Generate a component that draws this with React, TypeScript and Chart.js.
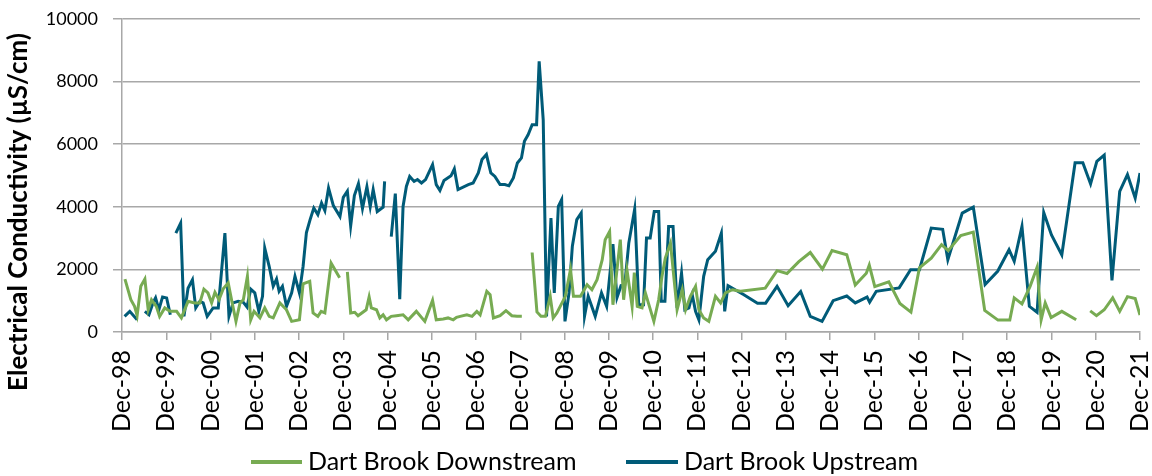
import React, { useEffect, useRef } from "react";
import { Chart, registerables } from "chart.js";

Chart.register(...registerables);

// x positions are months since Dec-1998
const downMonths = [0.8, 2.4, 3.4, 4.1, 5.1, 6.2, 7.1, 8.0, 9.3, 10.2, 11.6, 13.0, 14.8, 16.1, 17.9, 19.7, 21.1, 22.2, 23.3, 24.3, 25.2, 26.3, 27.4, 28.8, 29.7, 30.9, 32.0, 32.9, 34.0, 34.9, 35.8, 37.4, 38.7, 39.9, 41.0, 42.8, 44.6, 46.0, 48.1, 49.1, 50.9, 51.8, 53.1, 54.0, 55.0, 56.7, 59.0, 60, 61.1, 62.0, 63.1, 64.0, 66.2, 67.0, 67.6, 69.0, 69.9, 70.8, 71.7, 73.0, 74.4, 76.2, 77.6, 79.8, 82.1, 84.2, 85.2, 87.1, 88.4, 89.8, 90.7, 91.7, 93.5, 94.9, 96.2, 97.1, 98.9, 99.8, 100.7, 102.5, 104.1, 105.7, 107.1, 108.4, 109.5, 111.2, 112.5, 113.6, 114.8, 116.1, 116.9, 117.9, 120.2, 121.6, 122.4, 124.3, 126.1, 127.4, 128.8, 130.2, 131.0, 132.2, 133.1, 134.0, 135.1, 136.0, 136.9, 138.3, 138.9, 139.7, 141.0, 141.9, 144.2, 145.5, 146.4, 147.3, 148.7, 149.6, 150.5, 151.9, 152.8, 154.1, 155.5, 156.4, 157.7, 159.1, 160.9, 162.3, 163.6, 165.5, 167.7, 174.4, 177.6, 180.3, 183.5, 186.6, 189.9, 192.5, 196.5, 198.8, 201.8, 202.6, 204.1, 207.9, 210.9, 213.9, 216.2, 219.4, 222.2, 224.0, 227.4, 230.8, 233.9, 237.5, 240.7, 241.9, 244.0, 246.2, 248.1, 249.2, 250.3, 251.9, 254.8, 258.7, 260.5, 262.5, 264.2, 266.3, 268.6, 270.5, 272.6, 274.7, 276];
const downValues = [1690, 1030, 820, 530, 1460, 1690, 710, 1030, 820, 500, 770, 660, 660, 450, 980, 930, 930, 1370, 1250, 930, 1270, 1030, 1370, 1570, 1030, 340, 930, 1030, 1780, 390, 660, 450, 770, 500, 450, 930, 710, 340, 390, 1540, 1620, 610, 500, 660, 610, 2200, 1730, null, 1920, 610, 630, 520, 710, 1120, 770, 710, 450, 550, 390, 500, 520, 550, 390, 660, 340, 1010, 390, 415, 450, 390, 470, 500, 550, 500, 660, 550, 1300, 1190, 450, 520, 680, 520, 500, 500, null, 2540, 640, 500, 500, 1140, 450, 610, 1140, 2000, 1140, 1140, 1510, 1350, 1670, 2310, 2950, 3210, 870, 1780, 2950, 1030, 1990, 820, 1900, 820, 770, 1250, 340, 1030, 1780, 2360, 2840, 1780, 710, 1350, 710, 1140, 1460, 710, 450, 340, 1140, 930, 1250, 1350, 1300, 1400, 1960, 1870, 2250, 2540, 2010, 2600, 2470, 1500, 1880, 2140, 1450, 1600, 910, 635, 2050, 2360, 2790, 2600, 3080, 3190, 690, 380, 380, 1090, 900, 1460, 2070, 390, 930, 460, 660, 390, null, 675, 520, 710, 1090, 660, 1130, 1070, 540];

const upMonths = [0.7, 2.1, 4.1, 5, 6.2, 7.3, 8.4, 9.1, 10.0, 11.0, 12.1, 13.1, 14, 14.6, 15.9, 16.8, 17.9, 19.1, 20.0, 21.1, 22.0, 23.1, 24.7, 26.1, 27.9, 29.0, 30.1, 31.5, 32.9, 33.9, 34.9, 36.0, 37.1, 38.1, 38.7, 39.9, 41.0, 41.9, 42.6, 43.5, 44.6, 46.0, 46.9, 48.1, 49.1, 50.0, 51.0, 52.0, 53.1, 54.1, 55.0, 56.0, 57.3, 59.1, 60.0, 61.1, 62.0, 63.0, 64.1, 65.2, 66.4, 67.3, 68.1, 69.2, 70.8, 71.2, 72, 73.0, 74.1, 75.3, 76.2, 77.1, 78.0, 79.2, 80.1, 81.2, 82.3, 84.2, 85.2, 86.2, 87.3, 89.2, 90.1, 91.1, 93.9, 95.2, 96.6, 97.6, 98.8, 100.0, 101.1, 102.5, 103.8, 104.9, 106.1, 107.2, 108.3, 109.1, 110.1, 111.2, 112.4, 113.1, 114.2, 115.1, 116.3, 117.2, 118.3, 119.2, 120.1, 121.2, 122.1, 123.3, 124.5, 125.4, 126.4, 128.3, 130.0, 131.4, 133.1, 134.2, 135.3, 136.3, 137.4, 139.0, 140.1, 141.4, 142.2, 143.2, 144.3, 145.5, 146.2, 147.2, 148.2, 149.4, 150.5, 151.7, 152.6, 153.7, 154.6, 155.5, 156.4, 157.7, 158.8, 160.9, 162.5, 163.4, 164.3, 168.6, 172.3, 174.5, 177.6, 180.6, 184.0, 186.6, 189.8, 192.8, 196.5, 198.8, 202.0, 202.7, 204.5, 210.7, 213.8, 216.2, 219.4, 222.5, 223.9, 227.8, 230.8, 234.0, 237.4, 240.5, 241.9, 244.0, 246.0, 248.1, 249.9, 252.0, 254.8, 258.4, 260.5, 262.6, 264.3, 266.3, 268.4, 270.5, 272.6, 274.7, 276];
const upValues = [500, 660, 390, null, 660, 550, 930, 1090, 710, 1120, 1090, 550, null, 3160, 3480, 500, 1400, 1670, 770, 980, 930, 500, 770, 770, 3160, 500, 930, 980, 950, 800, 1370, 1250, 660, 1140, 2680, 2100, 1460, 1690, 1300, 1460, 820, 1250, 1780, 1250, 2100, 3180, 3590, 3960, 3750, 4120, 3880, 4600, 4040, 3690, 4300, 4500, 3390, 4360, 4740, 3950, 4640, 4000, 4550, 3850, 3990, 4810, null, 3050, 4420, 1050, 4010, 4650, 4970, 4810, 4870, 4760, 4870, 5350, 4710, 4520, 4840, 4990, 5210, 4550, 4710, 4760, 5080, 5510, 5670, 5080, 4970, 4710, 4710, 4670, 4920, 5400, 5560, 6090, 6300, 6620, 6620, 8650, 6780, 500, 3640, 1250, 4010, 4230, 340, 1250, 2740, 3590, 3800, 500, 1140, 500, 1250, 820, 2810, 1100, 1480, 1500, 2840, 3930, 870, 870, 3000, 3000, 3850, 3850, 980, 980, 3370, 3370, 770, 1880, 710, 770, 1190, 660, 390, 1780, 2310, 2580, 3160, 660, 1480, 1190, 920, 920, 1460, 840, 1290, 500, 340, 1000, 1150, 930, 1115, 950, 1300, 1410, 1990, 1990, 3320, 3280, 2310, 3800, 3990, 1520, 1940, 2630, 2260, 3370, 820, 630, 3820, 3100, 2460, 5410, 5410, 4730, 5450, 5650, 1650, 4490, 5030, 4280, 5080];

const seriesNames = ["Dart Brook Downstream", "Dart Brook Upstream"];
const seriesColors = ["#77ab52", "#005b78"];
const yTitle = "Electrical Conductivity (\u00b5S/cm)";
const xTickMonths = [0, 12, 24, 36, 48, 60, 72, 84, 96, 108, 120, 132, 144, 156, 168, 180, 192, 204, 216, 228, 240, 252, 264, 276];
const xTickLabels = ["Dec-98", "Dec-99", "Dec-00", "Dec-01", "Dec-02", "Dec-03", "Dec-04", "Dec-05", "Dec-06", "Dec-07", "Dec-08", "Dec-09", "Dec-10", "Dec-11", "Dec-12", "Dec-13", "Dec-14", "Dec-15", "Dec-16", "Dec-17", "Dec-18", "Dec-19", "Dec-20", "Dec-21"];

const FONT = "Lato, 'Open Sans', sans-serif";
const GRID = "#a8a8a8";

function toPoints(xs: number[], ys: (number | null)[]) {
  return xs.map((x, i) => ({ x, y: ys[i] }));
}

const overlay = {
  id: "overlay",
  afterDraw(chart: any) {
    const ctx = chart.ctx;
    ctx.save();
    ctx.fillStyle = "#000";
    ctx.font = `bold 26px ${FONT}`;
    ctx.textAlign = "center";
    ctx.textBaseline = "middle";
    ctx.translate(19, 212);
    ctx.rotate(-Math.PI / 2);
    ctx.fillText(yTitle, 0, 0);
    ctx.restore();

    const items = [
      { x0: 251, x1: 302, tx: 308 },
      { x0: 626, x1: 678, tx: 684 },
    ];
    ctx.save();
    ctx.font = `25px ${FONT}`;
    ctx.textAlign = "left";
    ctx.textBaseline = "middle";
    items.forEach((it, i) => {
      ctx.strokeStyle = seriesColors[i];
      ctx.lineWidth = 4;
      ctx.beginPath();
      ctx.moveTo(it.x0, 462);
      ctx.lineTo(it.x1, 462);
      ctx.stroke();
      ctx.fillStyle = "#000";
      ctx.fillText(seriesNames[i], it.tx, 462);
    });
    ctx.restore();
  },
};

export default function App() {
  const ref = useRef<HTMLCanvasElement>(null);
  useEffect(() => {
    if (!ref.current) return;
    const chart = new Chart(ref.current, {
      type: "line",
      data: {
        datasets: [
          {
            label: seriesNames[0],
            data: toPoints(downMonths, downValues),
            borderColor: seriesColors[0],
            backgroundColor: seriesColors[0],
            borderWidth: 3,
            pointRadius: 0,
            tension: 0,
            spanGaps: false,
          },
          {
            label: seriesNames[1],
            data: toPoints(upMonths, upValues),
            borderColor: seriesColors[1],
            backgroundColor: seriesColors[1],
            borderWidth: 3,
            pointRadius: 0,
            tension: 0,
            spanGaps: false,
          },
        ],
      },
      options: {
        animation: false,
        responsive: false,
        layout: { padding: { top: 19, right: 12, left: 0, bottom: 0 } },
        plugins: { legend: { display: false }, tooltip: { enabled: false } },
        scales: {
          x: {
            type: "linear",
            min: 0,
            max: 276,
            afterFit: (s: any) => {
              s.height = 144;
              s.paddingLeft = 0;
              s.paddingRight = 0;
            },
            afterBuildTicks: (s: any) => {
              s.ticks = xTickMonths.map((v) => ({ value: v }));
            },
            grid: { drawOnChartArea: false, drawTicks: true, tickLength: 8, color: GRID, lineWidth: 1.5 },
            border: { display: true, color: GRID, width: 1.5 },
            ticks: {
              autoSkip: false,
              minRotation: 90,
              maxRotation: 90,
              padding: 10,
              color: "#000",
              font: { family: FONT, size: 25 },
              callback: (v: any) => {
                const i = xTickMonths.indexOf(Number(v));
                return i >= 0 ? xTickLabels[i] : "";
              },
            },
          },
          y: {
            min: 0,
            max: 10000,
            afterFit: (s: any) => {
              s.width = 122;
              s.paddingTop = 0;
              s.paddingBottom = 0;
            },
            grid: { drawTicks: true, tickLength: 9, color: GRID, lineWidth: 1.5 },
            border: { display: true, color: GRID, width: 1.5 },
            ticks: {
              stepSize: 2000,
              padding: 15,
              color: "#000",
              font: { family: FONT, size: 18 },
              callback: (v: any) => String(v),
            },
          },
        },
      },
      plugins: [overlay],
    });
    return () => chart.destroy();
  }, []);
  return (
    <div style={{ position: "absolute", left: 0, top: 0, width: 1152, height: 476, background: "#fff" }}>
      <canvas ref={ref} width={1152} height={476} />
    </div>
  );
}
